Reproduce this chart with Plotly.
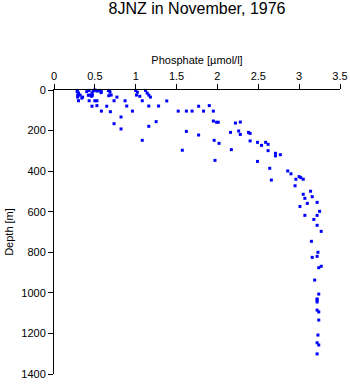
import plotly.graph_objects as go

phosphate = [
    0.285, 0.285, 0.30, 0.29, 0.29, 0.32, 0.30, 0.35, 0.40, 0.43, 0.44, 0.46, 0.465, 0.48, 0.50, 0.53, 0.555, 0.58,
    0.43, 0.50, 0.525, 0.465, 0.525, 0.58, 0.645, 0.69, 0.68, 0.685, 0.70, 0.67, 0.735, 0.77, 0.87, 0.89, 0.96,
    0.82, 0.735, 0.82, 1.00, 1.02, 1.05, 1.01, 1.08, 1.12, 1.14, 1.16, 1.18, 1.16, 1.16, 1.08, 1.25, 1.28,
    0.42, 0.47, 0.52, 0.34, 0.575, 0.665,
    1.38, 1.52, 1.62, 1.69, 1.77, 1.83, 1.90, 1.95, 1.62, 1.57, 1.77, 1.95, 1.99, 2.01, 1.96, 2.02, 1.97,
    2.16, 2.17, 2.22, 2.28, 2.26, 2.28, 2.38, 2.40, 2.40,
    2.49, 2.54, 2.59, 2.62, 2.62, 2.71, 2.71, 2.77, 2.49, 2.64, 2.66, 2.86, 2.90, 2.96, 3.00, 3.02, 3.05,
    2.95, 3.14, 3.05, 3.07, 3.16, 3.10, 3.22, 3.01, 3.25, 3.07, 3.22, 3.18, 3.22, 3.27, 3.15, 3.23, 3.22,
    3.16, 3.27, 3.24, 3.19, 3.24, 3.22, 3.22, 3.22, 3.22, 3.24, 3.24, 3.23, 3.22, 3.24, 3.22,
]
depth = [
    2, 8, 15, 25, 35, 25, 53, 35, 8, 2, 25, 31, 15, 5, 0, 5, 2, 8,
    53, 53, 53, 80, 77, 104, 80, 107, 2, 11, 25, 28, 53, 35, 53, 79, 104,
    133, 166, 192, 2, 11, 31, 25, 53, 2, 15, 25, 35, 79, 179, 248, 156, 79,
    26, 26, 3, 40, 13, 3,
    54, 104, 104, 104, 80, 104, 77, 104, 204, 297, 222, 153, 159, 159, 248, 263, 347,
    209, 294, 163, 158, 202, 219, 209, 214, 251,
    258, 273, 258, 268, 299, 312, 325, 319, 352, 386, 444, 399, 413, 440, 427, 432, 440,
    472, 499, 514, 534, 526, 559, 554, 574, 598, 618, 618, 638, 667, 697, 746, 800, 820,
    825, 869, 876, 937, 1006, 1030, 1035, 1045, 1085, 1094, 1134, 1208, 1246, 1257, 1301,
]

x_ticks = [0, 0.5, 1, 1.5, 2, 2.5, 3, 3.5]
x_tick_text = ["0", "0.5", "1", "1.5", "2", "2.5", "3", "3.5"]
y_ticks = [0, 200, 400, 600, 800, 1000, 1200, 1400]

fig = go.Figure(go.Scatter(
    x=phosphate, y=depth, mode="markers",
    marker=dict(symbol="square", size=3, color="#0000ff", line=dict(width=0)),
    cliponaxis=False,
))

font = "Liberation Sans, Arial, sans-serif"
fig.update_layout(
    width=350, height=384,
    margin=dict(l=54, r=10, t=90, b=10, autoexpand=False),
    paper_bgcolor="white", plot_bgcolor="white",
    font=dict(family=font, size=11, color="black"),
    title=dict(text="8JNZ in November, 1976", x=197/350, xanchor="center",
               y=1 - 8/384, yanchor="middle", font=dict(size=16, family=font)),
    showlegend=False,
)
fig.update_xaxes(
    range=[0, 3.5], side="top", tickvals=x_ticks, ticktext=x_tick_text,
    showline=True, linecolor="black", linewidth=1, mirror=False, automargin=False,
    ticks="outside", ticklen=5, tickcolor="black", tickwidth=1,
    showgrid=False, zeroline=False,
    title=dict(text="Phosphate [µmol/l]", standoff=2, font=dict(size=11)),
)
fig.update_yaxes(
    range=[1400, 0], tickvals=y_ticks, automargin=False,
    showline=True, linecolor="black", linewidth=1,
    ticks="outside", ticklen=5, tickcolor="black", tickwidth=1,
    showgrid=False, zeroline=False,
    title=dict(text="Depth [m]", standoff=5, font=dict(size=11)),
)
fig.write_html("out.html")
